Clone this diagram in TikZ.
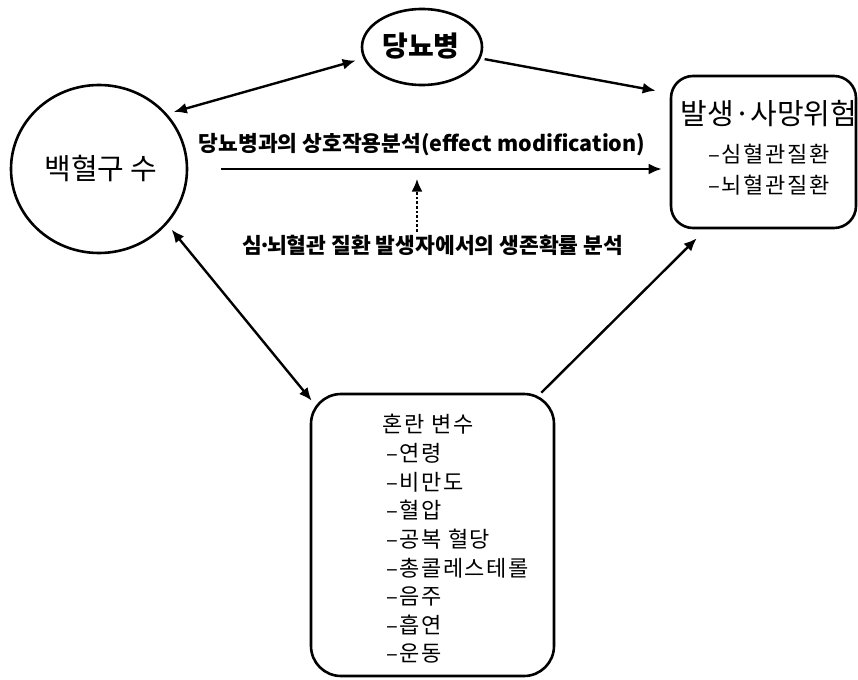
\documentclass[tikz,border=0pt]{standalone}
\usepackage{fontspec}
\setmainfont{Noto Sans CJK KR}
\usetikzlibrary{shapes.geometric,arrows.meta,calc}
\tikzset{
  shapeline/.style={draw=black, line width=2.6pt},
  tip/.tip={Latex[length=13pt,width=11pt]},
  arr/.style={line width=2.4pt, -tip},
  darr/.style={line width=2.4pt, tip-tip},
  dotarr/.style={line width=2.6pt, dash pattern=on 2.6pt off 2pt, -tip},
  big/.style={font=\fontsize{29}{34}\selectfont},
  bigb/.style={font=\fontsize{28}{34}\selectfont\bfseries},
  lab/.style={font=\fontsize{21.5}{26}\selectfont\bfseries, inner sep=0pt},
  item/.style={font=\fontsize{22}{26}\selectfont\addfontfeature{LetterSpace=7}, inner sep=0pt},
}
\begin{document}
\begin{tikzpicture}[x=1pt,y=-1pt]
\useasboundingbox (0,0) rectangle (858,679);
% shapes
\node[shapeline, ellipse, minimum width=120pt, minimum height=76pt, inner sep=0pt] (dm) at (422,47) {};
\node[bigb] (dmt) at (421,46) {당뇨병};
\node[shapeline, ellipse, minimum width=176pt, minimum height=168pt, inner sep=0pt] (wbc) at (99,169) {};
\node[big] (wbct) at (101,168) {백혈구 수};
\node[shapeline, rectangle, rounded corners=22pt, minimum width=185pt, minimum height=152pt, inner sep=0pt] (out) at (763.5,152) {};
\node[big, inner sep=0pt] (outt) at (769,114) {발생·사망위험};
\node[item] (o1) at (769,154) {–심혈관질환};
\node[item] (o2) at (769,185) {–뇌혈관질환};
\node[shapeline, rectangle, rounded corners=30pt, minimum width=243pt, minimum height=282pt, inner sep=0pt] (conf) at (432.5,535) {};
\node[item] (ct) at (428,424) {혼란 변수};
\node[item, anchor=west] (c1) at (386,453) {–연령};
\node[item, anchor=west] (c2) at (386,482) {–비만도};
\node[item, anchor=west] (c3) at (386,510) {–혈압};
\node[item, anchor=west] (c4) at (386,539) {–공복 혈당};
\node[item, anchor=west] (c5) at (386,568) {–총콜레스테롤};
\node[item, anchor=west] (c6) at (386,596) {–음주};
\node[item, anchor=west] (c7) at (386,625) {–흡연};
\node[item, anchor=west] (c8) at (386,653) {–운동};
% labels
\node[lab] (inter) at (422,145) {당뇨병과의 상호작용분석(effect modification)};
\node[lab] (surv) at (433,245) {심\kern-0.2em·\kern-0.2em뇌혈관 질환 발생자에서의 생존확률 분석};
% connectors
\draw[darr, shorten <=7pt, shorten >=8pt] (wbc.39) -- (dm.191);
\draw[arr, shorten <=4pt] (dm.-11) -- ($(out.north west)+(-14,16)$);
\draw[arr] ($(wbc.east)+(33,0)$) -- ($(wbc.east -| out.west)+(-8,0)$);
\draw[dotarr] ($(surv.north)+(-16,-3)$) -- ($(surv.north)+(-16,-56)$);
\draw[arr] ($(conf.north east)+(-14,0)$) -- ($(out.south west)+(27,9)$);
\draw[darr, shorten <=7pt] (wbc.-39) -- ($(conf.north west)+(2,8)$);
\end{tikzpicture}
\end{document}
